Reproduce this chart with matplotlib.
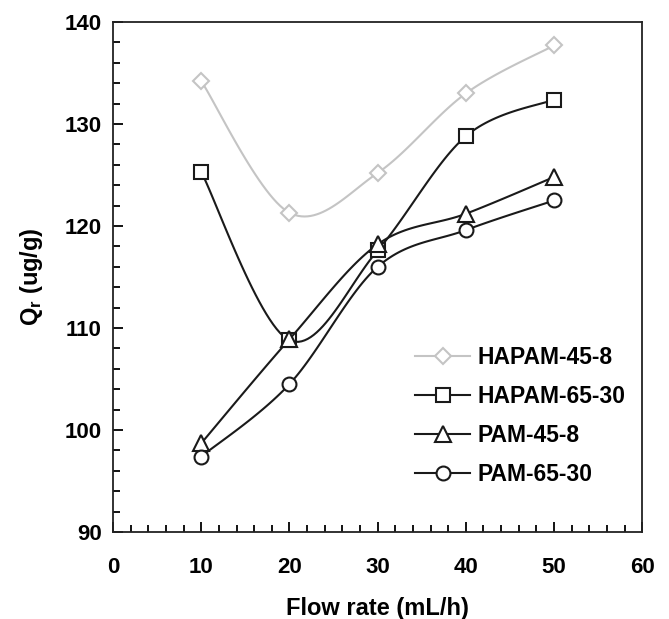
import numpy as np
import matplotlib
matplotlib.use("Agg")
import matplotlib.pyplot as plt
from matplotlib.ticker import MultipleLocator

plt.rcParams['font.family'] = ['Liberation Sans', 'DejaVu Sans']
plt.rcParams['font.weight'] = 'bold'
plt.rcParams['mathtext.fontset'] = 'custom'
plt.rcParams['mathtext.rm'] = 'Liberation Sans:bold'
plt.rcParams['mathtext.it'] = 'Liberation Sans:bold'
plt.rcParams['mathtext.default'] = 'rm'

flow = [10, 20, 30, 40, 50]
hapam_45_8 = [134.2, 121.3, 125.2, 133.0, 137.7]
hapam_65_30 = [125.3, 108.8, 117.6, 128.8, 132.4]
pam_45_8 = [98.7, 108.9, 118.2, 121.2, 124.8]
pam_65_30 = [97.4, 104.5, 116.0, 119.6, 122.5]


def smooth(x, y, n=30):
    # catmull-rom style curve like the excel "smoothed line"
    x = np.asarray(x, float)
    y = np.asarray(y, float)
    px = np.concatenate([[x[0]], x, [x[-1]]])
    py = np.concatenate([[y[0]], y, [y[-1]]])
    xs, ys = [], []
    t = np.linspace(0, 1, n)
    for i in range(1, len(px) - 2):
        p0, p1, p2, p3 = [np.array([px[j], py[j]]) for j in range(i - 1, i + 3)]
        c1 = p1 + (p2 - p0) / 6
        c2 = p2 - (p3 - p1) / 6
        pts = ((1 - t)[:, None] ** 3 * p1 + 3 * ((1 - t) ** 2 * t)[:, None] * c1
               + 3 * ((1 - t) * t ** 2)[:, None] * c2 + (t ** 3)[:, None] * p2)
        xs.extend(pts[:, 0])
        ys.extend(pts[:, 1])
    return np.array(xs), np.array(ys)


fig = plt.figure(figsize=(6.69, 6.19), dpi=100)
ax = fig.add_axes([0.169, 0.1405, 0.791, 0.824])

series = [
    (hapam_45_8, "HAPAM-45-8", "#c4c4c4", "D", 8),
    (hapam_65_30, "HAPAM-65-30", "#1a1a1a", "s", 10),
    (pam_45_8, "PAM-45-8", "#1a1a1a", "^", 11),
    (pam_65_30, "PAM-65-30", "#1a1a1a", "o", 10),
]
for y, lab, col, mk, ms in series:
    sx, sy = smooth(flow, y)
    ax.plot(sx, sy, color=col, lw=1.5)
    ax.plot(flow, y, ls="none", marker=mk, ms=ms, mfc="white", mec=col, mew=1.5)
    # legend proxy
    ax.plot([], [], color=col, lw=1.5, marker=mk, ms=ms, mfc="white", mec=col,
            mew=1.5, label=lab)

ax.set_xlim(0, 60)
ax.set_ylim(90, 140)
ax.xaxis.set_major_locator(MultipleLocator(10))
ax.xaxis.set_minor_locator(MultipleLocator(2))
ax.yaxis.set_major_locator(MultipleLocator(10))
ax.yaxis.set_minor_locator(MultipleLocator(2))
ax.tick_params(which="both", direction="in", top=False, right=False,
               labelsize=16, width=1.3)
ax.tick_params(which="major", length=7)
ax.tick_params(which="minor", length=5)
ax.tick_params(axis="x", which="major", pad=18)
ax.tick_params(axis="y", which="major", pad=8)
for sp in ax.spines.values():
    sp.set_linewidth(1.3)
    sp.set_color("#222222")

ax.set_xlabel("Flow rate (mL/h)", fontsize=17, fontweight="bold", labelpad=14)
ax.set_ylabel(r"Q$_{r}$ (ug/g)", fontsize=17, fontweight="bold", labelpad=14)

ax.legend(loc="upper left", bbox_to_anchor=(0.571, 0.365), frameon=False,
          borderpad=0, borderaxespad=0, handlelength=2.4, handletextpad=0.3,
          labelspacing=0.7, prop={"weight": "bold", "size": 16.5})

fig.savefig("out.png", dpi=100)
